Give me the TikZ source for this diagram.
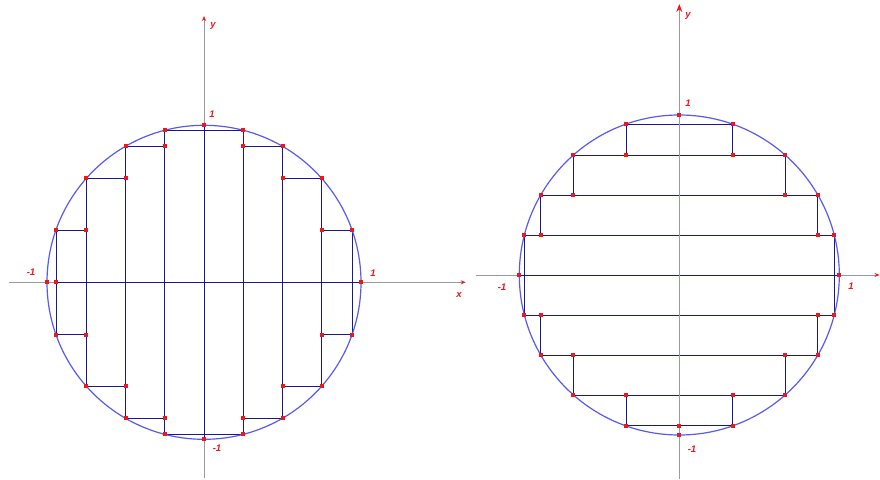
\documentclass[tikz,border=0pt]{standalone}
\usepackage{fontspec}
\setmainfont{Liberation Sans}
\usetikzlibrary{arrows.meta}
\definecolor{circ}{RGB}{90,90,240}
\definecolor{navy}{RGB}{25,25,140}
\definecolor{rdot}{RGB}{235,25,25}
\definecolor{axisg}{RGB}{155,155,155}
\begin{document}
\begin{tikzpicture}[x=1pt,y=-1pt,
  axis/.style={draw=axisg,line width=1pt},
  stepline/.style={draw=navy,line width=0.9pt},
  circline/.style={draw=circ,line width=1.2pt},
  rpt/.style={rectangle,fill=rdot,minimum size=4pt,inner sep=0pt},
  lab/.style={text=rdot,font=\fontsize{9.5}{10}\selectfont\bfseries\itshape,inner sep=0pt},
  tipsmall/.style={-{Stealth[color=rdot,length=5pt,width=4pt]}},
  tipbig/.style={-{Stealth[color=rdot,length=8pt,width=6pt]}}]
\useasboundingbox (0,0) rectangle (880,479);
\fill[white] (0,0) rectangle (880,479);

% ---------- left figure ----------
\coordinate (Lxs) at (9,282.3);
\coordinate (Lxe) at (465.7,282.3);
\coordinate (Lys) at (204,478);
\coordinate (Lye) at (204,16);
\draw[axis,tipsmall] (Lxs) -- (Lxe);
\draw[axis,tipsmall] (Lys) -- (Lye);
\begin{scope}[shift={(204,282.3)},x=157pt,y=157pt]
  \draw[stepline] (0,-1) -- (0,1);
  \draw[stepline] (-0.943,0) -- (1,0);
  \foreach \p/\f in {0.25/0.9682,0.5/0.8660,0.75/0.6614,0.943/0.3328}{
    \draw[stepline] (\p,-\f) -- (\p,\f);
    \draw[stepline] (-\p,-\f) -- (-\p,\f);
  }
  \draw[stepline] (-0.25,0.9682) -- (0.25,0.9682);
  \draw[stepline] (-0.25,-0.9682) -- (0.25,-0.9682);
  \foreach \p/\q/\f in {0.5/0.25/0.8660,0.75/0.5/0.6614,0.943/0.75/0.3328}{
    \foreach \s in {1,-1}{
      \foreach \t in {1,-1}{
        \draw[stepline] (\s*\p,\t*\f) -- (\s*\q,\t*\f);
      }
    }
  }
  \draw[circline] (0,0) circle[radius=1];
  \foreach \p/\f in {0.25/0.9682,0.5/0.8660,0.75/0.6614,0.943/0.3328}{
    \foreach \s in {1,-1}{
      \foreach \t in {1,-1}{
        \node[rpt] at (\s*\p,\t*\f) {};
      }
    }
  }
  \foreach \q/\f in {0.25/0.8660,0.5/0.6614,0.75/0.3328}{
    \foreach \s in {1,-1}{
      \foreach \t in {1,-1}{
        \node[rpt] at (\s*\q,\t*\f) {};
      }
    }
  }
  \node[rpt] (Ltop) at (0,1) {};
  \node[rpt] (Lbot) at (0,-1) {};
  \node[rpt] (Lleft) at (-1,0) {};
  \node[rpt] (Lright) at (1,0) {};
  \node[rpt] (Linner) at (-0.943,0) {};
\end{scope}
\node[lab] (Lylab) at (213,26) {y};
\node[lab] (Lxlab) at (459,295) {x};
\node[lab] (L1t) at (212,114) {1};
\node[lab] (L1b) at (217,448) {-1};
\node[lab] (L1l) at (31,272) {-1};
\node[lab] (L1r) at (373,273) {1};

% ---------- right figure ----------
\coordinate (Rxs) at (476,275);
\coordinate (Rxe) at (879.5,275);
\coordinate (Rys) at (679.3,479);
\coordinate (Rye) at (679.3,4);
\draw[axis,tipsmall] (Rxs) -- (Rxe);
\begin{scope}[shift={(679.3,275)},x=160pt,y=160pt]
  \draw[stepline] (-1,0) -- (1,0);
  \foreach \q/\f in {0.25/0.9682,0.5/0.8660,0.75/0.6614,0.943/0.3328}{
    \draw[stepline] (-\f,\q) -- (\f,\q);
    \draw[stepline] (-\f,-\q) -- (\f,-\q);
  }
  \draw[stepline] (0.9682,-0.25) -- (0.9682,0.25);
  \draw[stepline] (-0.9682,-0.25) -- (-0.9682,0.25);
  \foreach \q/\r/\f in {0.5/0.25/0.8660,0.75/0.5/0.6614,0.943/0.75/0.3328}{
    \foreach \s in {1,-1}{
      \foreach \t in {1,-1}{
        \draw[stepline] (\s*\f,\t*\q) -- (\s*\f,\t*\r);
      }
    }
  }
\end{scope}
\draw[axis,tipbig] (Rys) -- (Rye);
\begin{scope}[shift={(679.3,275)},x=160pt,y=160pt]
  \draw[circline] (0,0) circle[radius=1];
  \foreach \q/\f in {0.25/0.9682,0.5/0.8660,0.75/0.6614,0.943/0.3328}{
    \foreach \s in {1,-1}{
      \foreach \t in {1,-1}{
        \node[rpt] at (\s*\f,\t*\q) {};
      }
    }
  }
  \foreach \r/\f in {0.25/0.8660,0.5/0.6614,0.75/0.3328}{
    \foreach \s in {1,-1}{
      \foreach \t in {1,-1}{
        \node[rpt] at (\s*\f,\t*\r) {};
      }
    }
  }
  \node[rpt] (Rtop) at (0,1) {};
  \node[rpt] (Rbot) at (0,-1) {};
  \node[rpt] (Rchord) at (0,-0.943) {};
  \node[rpt] (Rleft) at (-1,0) {};
  \node[rpt] (Rright) at (1,0) {};
\end{scope}
\node[lab] (Rylab) at (688,16) {y};
\node[lab] (R1t) at (688,103) {1};
\node[lab] (R1b) at (692,449) {-1};
\node[lab] (R1l) at (502,287) {-1};
\node[lab] (R1r) at (851,286) {1};
\end{tikzpicture}
\end{document}
